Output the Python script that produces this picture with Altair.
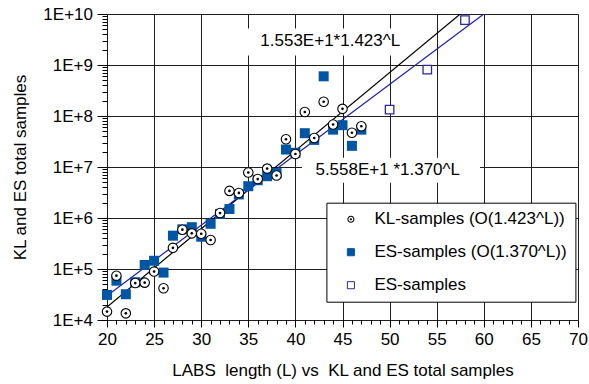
import altair as alt
import pandas as pd

# ---------------- data ----------------
L_kl = list(range(20, 48))
kl_samples = [1.46e4, 7.4e4, 1.35e4, 5.3e4, 5.4e4, 8.9e4, 4.2e4, 2.6e5, 5.9e5, 5.0e5,
              4.9e5, 3.7e5, 1.25e6, 3.4e6, 3.1e6, 7.8e6, 5.8e6, 9.3e6, 6.8e6, 3.5e7,
              1.8e7, 1.2e8, 3.7e7, 1.9e8, 6.8e7, 1.38e8, 4.7e7, 6.3e7]

L_es = list(range(20, 48))
es_samples = [3.1e4, 5.9e4, 3.2e4, 5.5e4, 1.2e5, 1.45e5, 8.5e4, 4.5e5, 6.0e5, 6.6e5,
              4.3e5, 7.7e5, 1.2e6, 1.5e6, 2.9e6, 4.2e6, 5.5e6, 6.6e6, 7.6e6, 2.2e7,
              1.9e7, 4.6e7, 3.4e7, 6.0e8, 5.4e7, 6.6e7, 2.6e7, 5.4e7]

L_es_open = [50, 54, 58]
es_open_samples = [1.33e8, 8.1e8, 7.6e9]

fit_kl_L = [20, 57.5]
fit_kl_v = [1.8e4, 1.0e10]
fit_es_L = [20, 60]
fit_es_v = [3.0e4, 1.0e10]

series_names = ["KL-samples (O(1.423^L))", "ES-samples (O(1.370^L))", "ES-samples"]

ann_text = ["1.553E+1*1.423^L", "5.558E+1 *1.370^L"]
ann_L = [43.7, 49.8]
ann_v = [2.9e9, 8.85e6]
box_L0 = [34.5, 40.7]
box_L1 = [51.3, 59.6]
box_v0 = [5.2e9, 1.52e7]
box_v1 = [1.54e9, 4.9e6]

x_title = "LABS\u00a0 length (L) vs\u00a0 KL and ES total samples"
y_title = "KL and ES total samples"

# ---------------- tables ----------------
df_kl = pd.DataFrame({"L": L_kl, "v": kl_samples, "series": series_names[0]})
df_es = pd.DataFrame({"L": L_es, "v": es_samples, "series": series_names[1]})
df_eo = pd.DataFrame({"L": L_es_open, "v": es_open_samples, "series": series_names[2]})
df_all = pd.concat([df_es, df_eo, df_kl], ignore_index=True)
df_fkl = pd.DataFrame({"L": fit_kl_L, "v": fit_kl_v})
df_fes = pd.DataFrame({"L": fit_es_L, "v": fit_es_v})
df_ann = pd.DataFrame({"L": ann_L, "v": ann_v, "t": ann_text})
df_box = pd.DataFrame({"L": box_L0, "L2": box_L1, "v": box_v0, "v2": box_v1})

FONT = "Liberation Sans"
GRID = "#1e1e1e"

x_vals = list(range(20, 71))
y_vals = []
for k in range(4, 10):
    for m in range(1, 10):
        y_vals.append(float(m * 10 ** k))
y_vals.append(1e10)

xscale = alt.Scale(domain=[20, 70], nice=False, zero=False)
yscale = alt.Scale(type="log", domain=[1e4, 1e10], nice=False)

is5 = "datum.value % 5 == 0"
isdec = "abs(log(datum.value)/LN10 - round(log(datum.value)/LN10)) < 0.001"

xaxis = alt.Axis(
    values=x_vals, title=x_title, domain=False, labelFlush=False, labelOverlap=False,
    labelExpr=f"{is5} ? datum.label : ''",
    grid=True, gridColor=GRID, gridWidth=1,
    gridOpacity={"condition": {"test": is5, "value": 1}, "value": 0},
    tickSize={"condition": {"test": is5, "value": 7}, "value": 4},
    tickColor="black", tickWidth=1,
    labelFont=FONT, labelFontSize=17, labelColor="black", labelPadding=4.5,
    titleFont=FONT, titleFontSize=17, titleFontWeight="normal", titleColor="black",
    titleX=235.5, titleY=55, titleAlign="center", titleBaseline="alphabetic",
)
yaxis = alt.Axis(
    values=y_vals, title=y_title, domain=False, labelOverlap=False,
    labelExpr=f"{isdec} ? '1E+' + round(log(datum.value)/LN10) : ''",
    grid=True, gridColor=GRID, gridWidth=1,
    gridOpacity={"condition": {"test": isdec, "value": 1}, "value": 0},
    tickSize={"condition": {"test": isdec, "value": 10}, "value": 5},
    tickColor="black", tickWidth=1,
    labelFont=FONT, labelFontSize=17, labelColor="black", labelPadding=4.5,
    titleFont=FONT, titleFontSize=17, titleFontWeight="normal", titleColor="black",
    titleX=-82, titleY=153, titleAngle=270, titleAlign="center", titleBaseline="alphabetic",
)

X = alt.X("L:Q", scale=xscale, axis=xaxis)
Y = alt.Y("v:Q", scale=yscale, axis=yaxis)

kl_path = ("M -1 0 A 1 1 0 1 0 1 0 A 1 1 0 1 0 -1 0 Z "
           "M -0.7 0 A 0.7 0.7 0 1 1 0.7 0 A 0.7 0.7 0 1 1 -0.7 0 Z "
           "M -0.3 0 A 0.3 0.3 0 1 0 0.3 0 A 0.3 0.3 0 1 0 -0.3 0 Z")

leg = alt.Legend(
    title=None, orient="none", legendX=219.4, legendY=188.7, padding=8,
    fillColor="white", strokeColor="black", symbolSize=50, symbolStrokeWidth=1,
    labelFont=FONT, labelFontSize=17, labelColor="black", labelOffset=15,
    rowPadding=15, symbolOffset=8, labelLimit=400,
)

legend_layer = alt.Chart(df_all).mark_point(size=50, opacity=1, fillOpacity=1, strokeWidth=1).encode(
    x=X, y=Y,
    shape=alt.Shape("series:N", scale=alt.Scale(domain=series_names, range=[kl_path, "square", "square"]), legend=leg),
    fill=alt.Fill("series:N", scale=alt.Scale(domain=series_names, range=["black", "#0055a5", "white"]), legend=leg),
    stroke=alt.Stroke("series:N", scale=alt.Scale(domain=series_names, range=["transparent", "#0055a5", "#2a2aa0"]), legend=leg),
)

boxes = alt.Chart(df_box).mark_rect(color="white", opacity=1).encode(
    x=X, x2="L2:Q", y=Y, y2="v2:Q"
)

line_kl = alt.Chart(df_fkl).mark_line(color="black", strokeWidth=1.2, clip=True).encode(x=X, y=Y)
line_es = alt.Chart(df_fes).mark_line(color="#1c1cb4", strokeWidth=1.2, clip=True).encode(x=X, y=Y)

es_sq = alt.Chart(df_es).mark_square(size=100, color="#0055a5", opacity=1).encode(x=X, y=Y)
eo_sq = alt.Chart(df_eo).mark_square(size=72, fill="white", stroke="#2a2aa0", strokeWidth=1.3, opacity=1).encode(x=X, y=Y)
kl_c = alt.Chart(df_kl).mark_circle(size=90, fill="white", stroke="black", strokeWidth=1.1, opacity=1).encode(x=X, y=Y)
kl_d = alt.Chart(df_kl).mark_circle(size=7, color="black", opacity=1).encode(x=X, y=Y)

ann = alt.Chart(df_ann).mark_text(font=FONT, fontSize=17, color="black", align="center", baseline="middle").encode(
    x=X, y=Y, text="t:N"
)

chart = alt.layer(
    legend_layer, boxes, line_kl, line_es, es_sq, eo_sq, kl_c, kl_d, ann
).properties(
    width=471, height=306,
    autosize=alt.AutoSizeParams(type="none"),
    padding={"left": 107, "top": 14, "right": 11, "bottom": 64},
).configure_view(
    stroke="black", strokeWidth=1.6
).configure_legend(
    strokeWidth=1.4
).configure(background="white")

chart.save("out.html", embed_options={"renderer": "svg", "actions": False})
